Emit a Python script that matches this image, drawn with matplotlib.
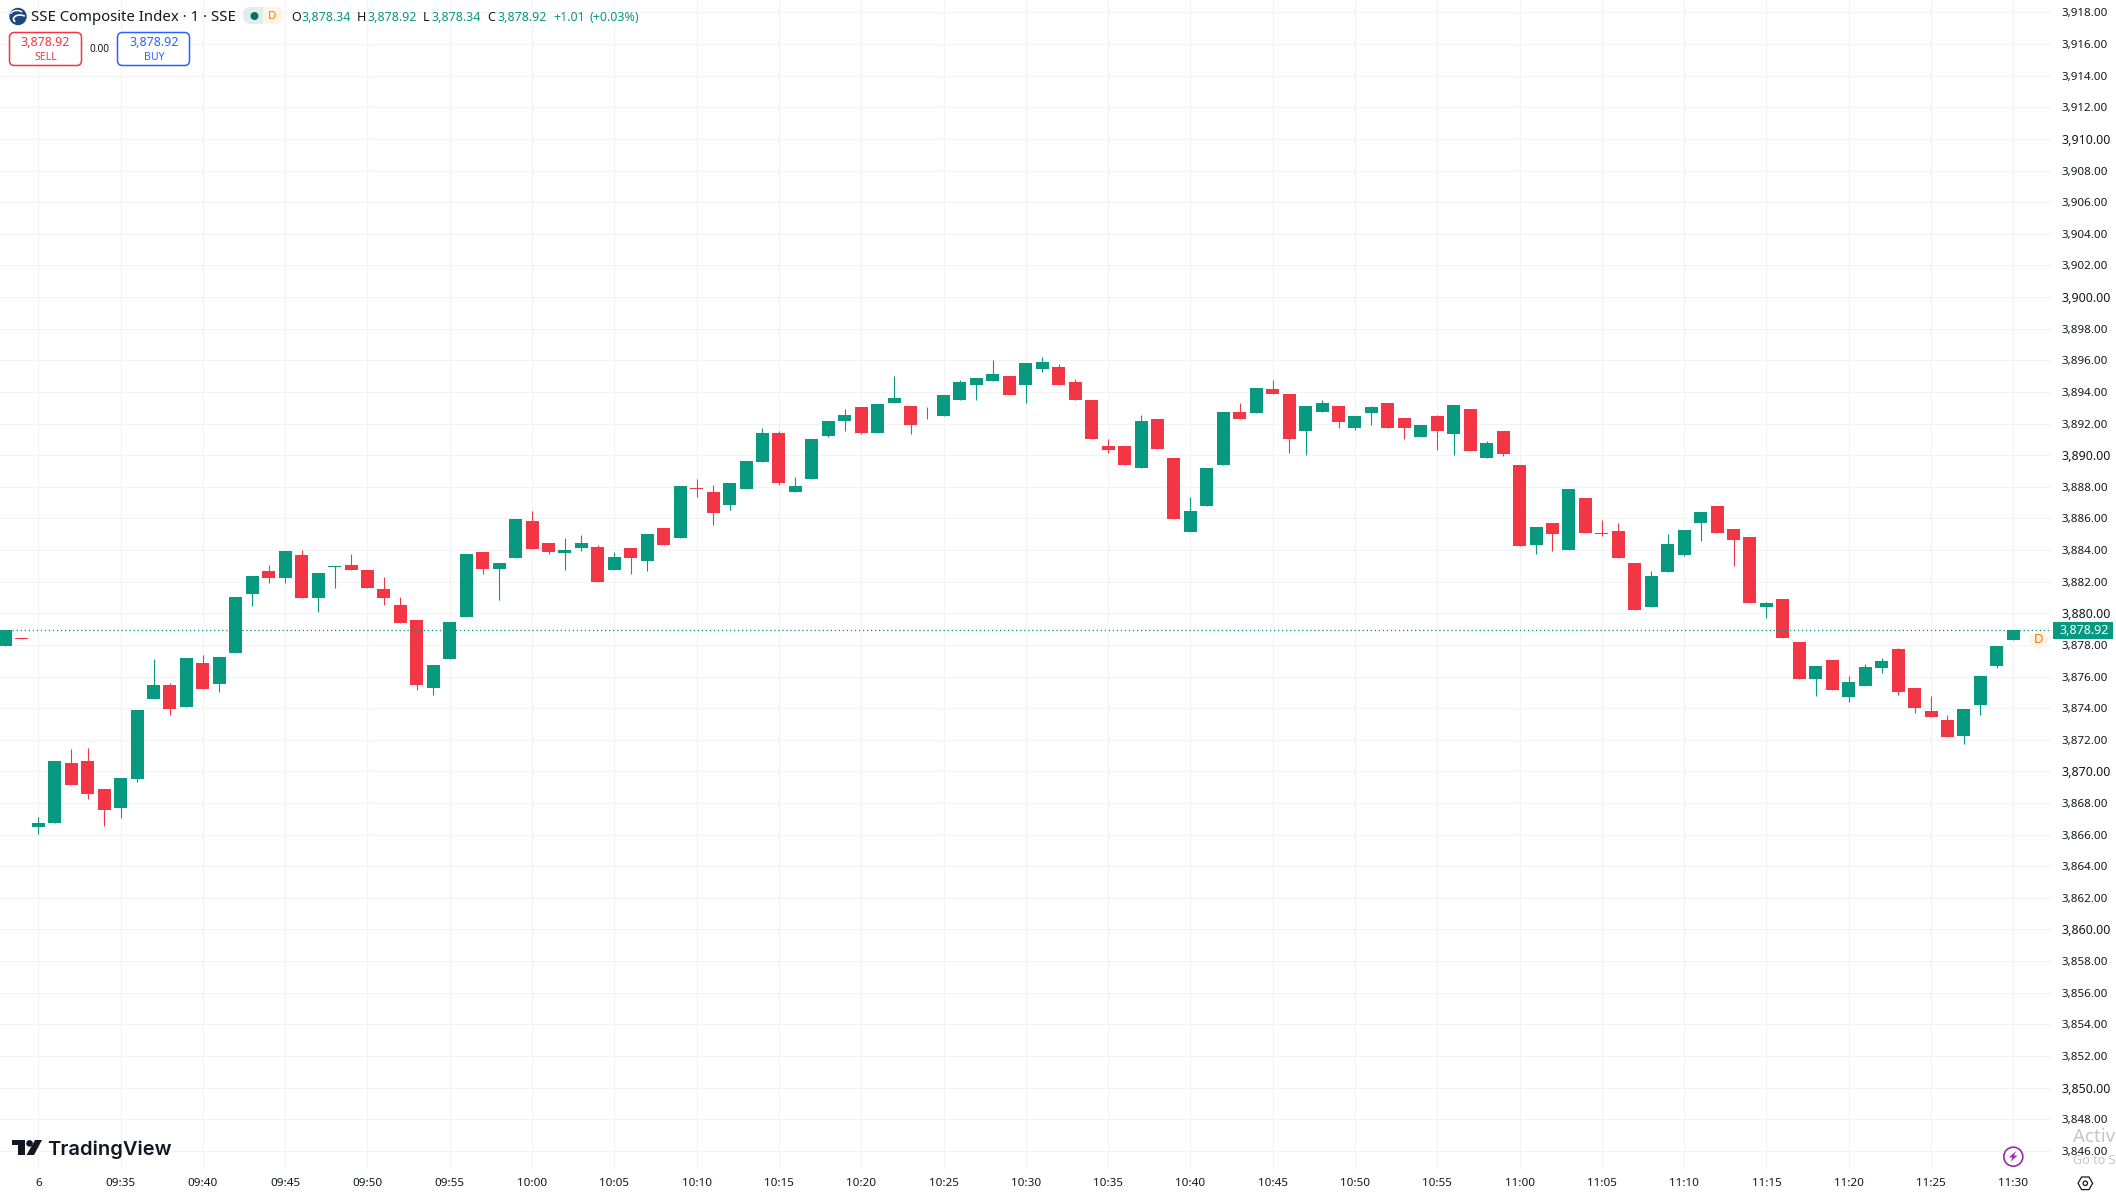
import numpy as np
import matplotlib
matplotlib.use("Agg")
import matplotlib.pyplot as plt
from matplotlib.patches import Circle, FancyBboxPatch, Polygon, Rectangle, Arc

# one minute bars, first two belong to the previous session
opens = [3877.95, 3878.44, 3866.49, 3866.74, 3870.53, 3870.66, 3868.89, 3867.69, 3869.52, 3874.58,
         3875.47, 3874.08, 3876.86, 3875.53, 3877.49, 3881.22, 3882.68, 3882.23, 3883.69, 3880.97,
         3882.93, 3883.06, 3882.74, 3881.54, 3880.53, 3879.58, 3875.28, 3877.11, 3879.77, 3883.88,
         3882.80, 3883.52, 3885.86, 3884.47, 3883.84, 3884.16, 3884.22, 3882.76, 3884.16, 3883.33,
         3885.42, 3884.79, 3887.95, 3887.70, 3886.88, 3887.89, 3889.54, 3891.43, 3887.70, 3888.52,
         3891.24, 3892.19, 3893.02, 3891.43, 3893.33, 3893.14, 3892.76, 3892.45, 3893.46, 3894.47,
         3894.66, 3894.98, 3894.41, 3895.42, 3895.55, 3894.60, 3893.46, 3890.55, 3890.55, 3889.16,
         3892.26, 3889.79, 3885.17, 3886.81, 3889.41, 3892.76, 3892.64, 3894.16, 3893.90, 3891.56,
         3892.70, 3893.14, 3891.69, 3892.64, 3893.33, 3892.32, 3891.16, 3892.45, 3891.31, 3892.92,
         3889.82, 3891.53, 3889.38, 3884.32, 3885.71, 3884.01, 3887.30, 3885.08, 3885.21, 3883.18,
         3880.40, 3882.61, 3883.69, 3885.71, 3886.79, 3885.33, 3884.83, 3880.40, 3880.91, 3878.19,
         3875.85, 3877.05, 3874.71, 3875.40, 3876.54, 3877.74, 3875.28, 3873.82, 3873.25, 3872.24,
         3874.20, 3876.67, 3878.34]
highs = [3878.95, 3878.44, 3867.12, 3870.66, 3871.42, 3871.48, 3868.89, 3869.58, 3873.89, 3877.11,
         3875.59, 3877.17, 3877.36, 3877.24, 3881.03, 3882.36, 3883.06, 3883.94, 3884.01, 3882.55,
         3882.99, 3883.75, 3882.74, 3882.30, 3881.03, 3879.58, 3876.73, 3879.45, 3883.75, 3883.88,
         3883.18, 3885.99, 3886.50, 3884.47, 3884.73, 3884.92, 3884.35, 3883.90, 3884.16, 3885.04,
         3885.42, 3888.02, 3888.52, 3888.14, 3888.27, 3889.66, 3891.75, 3891.56, 3888.65, 3891.05,
         3892.19, 3892.95, 3893.02, 3893.21, 3894.98, 3893.14, 3893.02, 3893.78, 3894.73, 3894.85,
         3896.05, 3894.98, 3895.80, 3896.18, 3895.74, 3894.79, 3893.46, 3891.05, 3890.55, 3892.51,
         3892.26, 3889.79, 3887.38, 3889.16, 3892.70, 3893.33, 3894.22, 3894.73, 3893.90, 3893.14,
         3893.46, 3893.14, 3892.45, 3893.14, 3893.33, 3892.32, 3891.88, 3892.51, 3893.18, 3892.92,
         3890.90, 3891.53, 3889.38, 3885.46, 3885.71, 3887.86, 3887.30, 3885.90, 3885.71, 3883.18,
         3882.68, 3885.02, 3885.27, 3886.41, 3886.79, 3885.33, 3884.83, 3880.72, 3880.91, 3878.19,
         3876.67, 3877.05, 3876.04, 3876.80, 3877.17, 3877.81, 3875.28, 3874.77, 3873.57, 3873.95,
         3876.04, 3877.93, 3878.92]
lows = [3877.95, 3878.40, 3866.04, 3866.74, 3869.14, 3868.26, 3866.55, 3867.05, 3869.33, 3874.58,
        3873.57, 3874.08, 3875.21, 3875.02, 3877.49, 3880.46, 3881.92, 3881.92, 3880.97, 3880.08,
        3881.60, 3882.74, 3881.60, 3880.53, 3879.39, 3875.15, 3874.83, 3877.11, 3879.77, 3882.49,
        3880.84, 3883.52, 3884.09, 3883.78, 3882.76, 3883.97, 3882.00, 3882.76, 3882.51, 3882.70,
        3884.35, 3884.79, 3887.38, 3885.61, 3886.56, 3887.89, 3889.54, 3888.14, 3887.70, 3888.52,
        3891.12, 3891.50, 3891.37, 3891.43, 3893.33, 3891.37, 3892.26, 3892.45, 3893.46, 3893.46,
        3894.66, 3893.78, 3893.33, 3895.23, 3894.41, 3893.46, 3891.05, 3890.11, 3889.35, 3889.16,
        3890.42, 3885.99, 3885.17, 3886.81, 3889.41, 3892.26, 3892.64, 3893.90, 3890.11, 3889.98,
        3892.70, 3891.75, 3891.62, 3891.94, 3891.69, 3891.05, 3891.12, 3890.30, 3890.01, 3890.27,
        3889.82, 3889.95, 3884.26, 3883.75, 3883.94, 3884.01, 3885.08, 3884.89, 3883.50, 3880.21,
        3880.40, 3882.61, 3883.63, 3884.58, 3885.08, 3882.99, 3880.65, 3879.70, 3878.44, 3875.85,
        3874.77, 3875.15, 3874.39, 3875.40, 3876.23, 3874.83, 3873.70, 3873.44, 3872.18, 3871.74,
        3873.57, 3876.54, 3878.34]
closes = [3878.95, 3878.40, 3866.74, 3870.66, 3869.14, 3868.57, 3867.56, 3869.58, 3873.89, 3875.47,
          3873.95, 3877.17, 3875.21, 3877.24, 3881.03, 3882.36, 3882.23, 3883.94, 3880.97, 3882.55,
          3882.99, 3882.74, 3881.60, 3880.97, 3879.39, 3875.47, 3876.73, 3879.45, 3883.75, 3882.80,
          3883.18, 3885.99, 3884.09, 3883.90, 3884.03, 3884.47, 3882.00, 3883.59, 3883.52, 3885.04,
          3884.35, 3888.02, 3887.89, 3886.37, 3888.27, 3889.60, 3891.43, 3888.27, 3888.08, 3891.05,
          3892.19, 3892.57, 3891.43, 3893.21, 3893.59, 3891.94, 3892.70, 3893.78, 3894.60, 3894.85,
          3895.15, 3893.78, 3895.80, 3895.87, 3894.41, 3893.46, 3891.05, 3890.30, 3889.35, 3892.13,
          3890.42, 3885.99, 3886.50, 3889.16, 3892.70, 3892.26, 3894.22, 3893.90, 3891.05, 3893.14,
          3893.33, 3892.07, 3892.45, 3893.02, 3891.69, 3891.75, 3891.88, 3891.56, 3893.18, 3890.27,
          3890.77, 3890.08, 3884.26, 3885.46, 3885.02, 3887.86, 3885.08, 3885.02, 3883.50, 3880.21,
          3882.36, 3884.39, 3885.27, 3886.41, 3885.08, 3884.64, 3880.65, 3880.65, 3878.44, 3875.85,
          3876.67, 3875.15, 3875.66, 3876.61, 3876.99, 3875.02, 3874.01, 3873.44, 3872.18, 3873.95,
          3876.04, 3877.93, 3878.92]

time_ticks = [0, 5, 10, 15, 20, 25, 30, 35, 40, 45, 50, 55, 60, 65, 70, 75, 80, 85, 90, 95, 100, 105, 110, 115, 120]
time_labels = ["6", "09:35", "09:40", "09:45", "09:50", "09:55", "10:00", "10:05", "10:10", "10:15", "10:20",
               "10:25", "10:30", "10:35", "10:40", "10:45", "10:50", "10:55", "11:00", "11:05", "11:10",
               "11:15", "11:20", "11:25", "11:30"]
price_ticks = list(range(3846, 3920, 2))
last_price = 3878.92

UP = "#089981"
DOWN = "#f23645"
TEXT = "#131722"
GRID = "#f3f3f4"
PX = 0.72  # one pixel in points at dpi 100

plt.rcParams['font.family'] = ['Noto Sans', 'DejaVu Sans']

fig = plt.figure(figsize=(21.16, 11.97), dpi=100, facecolor="white")
ax = fig.add_axes([0, 28 / 1197, 2052 / 2116, 1169 / 1197])
for s in ax.spines.values():
    s.set_visible(False)

x = np.arange(len(opens)) - 2
o = np.array(opens)
h = np.array(highs)
l = np.array(lows)
c = np.array(closes)
colors = [UP if b >= a else DOWN for a, b in zip(o, c)]

ax.vlines(x, l, h, colors=colors, linewidth=1.1 * PX, zorder=3)
ax.bar(x, np.maximum(np.abs(c - o), 0.05), bottom=np.minimum(o, c), width=0.79, color=colors, linewidth=0, zorder=4)
ax.axhline(last_price, color=UP, linewidth=1.3 * PX, linestyle=(0, (1, 2.1)), zorder=5)

ax.set_xlim(-2.327, 122.35)
ax.set_ylim(3844.85, 3918.79)
ax.set_xticks(time_ticks)
ax.set_xticklabels(time_labels, fontsize=8.4, color=TEXT)
ax.yaxis.tick_right()
ax.set_yticks(price_ticks)
ax.set_yticklabels([f"{p:,.2f}" for p in price_ticks], fontsize=8.3, color=TEXT, va='center_baseline')
ax.tick_params(axis='both', length=0)
ax.tick_params(axis='x', pad=6.5)
ax.tick_params(axis='y', pad=6.5)
for p, lab in zip(price_ticks, ax.get_yticklabels()):
    if p % 10 == 0:
        lab.set_fontsize(9.0)
        lab.set_fontweight('medium')
ax.grid(True, color=GRID, linewidth=1.1 * PX)
ax.set_axisbelow(True)

# overlay in screen pixels for the header, logo and small icons
over = fig.add_axes([0, 0, 1, 1])
over.set_xlim(0, 2116)
over.set_ylim(1197, 0)
over.axis('off')
over.patch.set_alpha(0)

# header
over.add_patch(Circle((18, 16.5), 8.7, color="#1d4a7c", lw=0))
over.add_patch(Arc((20, 19), 13, 8, theta1=150, theta2=330, color="white", lw=1.2))
over.add_patch(Arc((17, 14), 12, 7, theta1=180, theta2=340, color="white", lw=1.0))
over.text(31, 17.5, "SSE Composite Index · 1 · SSE", fontsize=10.75, color=TEXT, va='center', ha='left')
over.add_patch(FancyBboxPatch((247, 7), 36, 17, boxstyle="round,pad=0,rounding_size=8", color="#fff3e3", lw=0))
over.add_patch(FancyBboxPatch((243, 7), 28, 17, boxstyle="round,pad=0,rounding_size=8", color="#dcefeb", lw=0))
over.add_patch(Rectangle((263, 7), 12, 17, color="#fff3e3", lw=0))
over.add_patch(Circle((254.5, 16), 4, color="#0b6e60", lw=0))
over.text(272.5, 16.5, "D", fontsize=8.3, color="#f57c00", ha='center', va='center')

hdr = [(291, "O", TEXT), (301, "3,878.34", UP), (357, "H", TEXT), (367, "3,878.92", UP),
       (423, "L", TEXT), (431, "3,878.34", UP), (487.5, "C", TEXT), (497, "3,878.92", UP),
       (553, "+1.01", UP), (589, "(+0.03%)", UP)]
for hx, t, col in hdr:
    over.text(hx, 17.5, t, fontsize=9.0, color=col, ha='left', va='center')

# sell and buy boxes
over.add_patch(FancyBboxPatch((9.5, 32.5), 72, 33, boxstyle="round,pad=0,rounding_size=5", fc="white", ec=DOWN, lw=1.1))
over.text(45.5, 43, "3,878.92", fontsize=9.0, color=DOWN, ha='center', va='center')
over.text(45.5, 57.5, "SELL", fontsize=7.6, color=DOWN, ha='center', va='center')
over.text(99.5, 49.5, "0.00", fontsize=7.2, color=TEXT, ha='center', va='center')
over.add_patch(FancyBboxPatch((117.5, 32.5), 72, 33, boxstyle="round,pad=0,rounding_size=5", fc="white", ec="#2962ff", lw=1.1))
over.text(154, 43, "3,878.92", fontsize=9.0, color="#2962ff", ha='center', va='center')
over.text(154, 57.5, "BUY", fontsize=7.6, color="#2962ff", ha='center', va='center')

# last price tag and D badge
over.add_patch(Rectangle((2052.5, 621.5), 60.5, 17.5, color=UP, lw=0, zorder=6))
over.text(2084, 630, "3,878.92", fontsize=9.0, color="white", ha='center', va='center', fontweight='semibold', zorder=7)
over.add_patch(Circle((2038.3, 639.7), 8.8, color="#fff3e3", lw=0))
over.text(2038.3, 639.5, "D", fontsize=9.5, color="#f57c00", ha='center', va='center')

# TradingView logo
over.add_patch(Polygon([(12, 1140), (25, 1140), (25, 1155), (18, 1155), (18, 1145), (12, 1145)], color=TEXT, lw=0))
over.add_patch(Circle((29.5, 1143.4), 3.3, color=TEXT, lw=0))
over.add_patch(Polygon([(35, 1140), (42, 1140), (34, 1155), (26.5, 1155)], color=TEXT, lw=0))
over.text(47.5, 1150, "TradingView", fontsize=14.5, color=TEXT, family='Inter', fontweight='semibold', ha='left', va='center')

# lightning button
over.add_patch(Circle((2013.3, 1156.7), 9.5, fc="white", ec="#9c27b0", lw=1.2))
over.add_patch(Polygon([(2016, 1151), (2009, 1157.5), (2012.5, 1157.5), (2010.5, 1162), (2017.5, 1155.5), (2014, 1155.5)], color="#9c27b0", lw=0))

# settings hexagon
over.add_patch(Polygon([(2078, 1183.3), (2081.6, 1177), (2089, 1177), (2092.6, 1183.3), (2089, 1189.6), (2081.6, 1189.6)],
                       fc="none", ec=TEXT, lw=0.9))
over.add_patch(Circle((2085.3, 1183.3), 2.2, fc="none", ec=TEXT, lw=0.9))

# windows activation watermark, reaches the edge of the capture
over.text(2073, 1137, "Activ", fontsize=13.5, color="#b8b8b8", ha='left', va='center', alpha=0.8)
over.text(2073, 1160, "Go to S", fontsize=9.1, color="#b8b8b8", ha='left', va='center', alpha=0.8)

fig.savefig("out.png", dpi=100, facecolor="white")
